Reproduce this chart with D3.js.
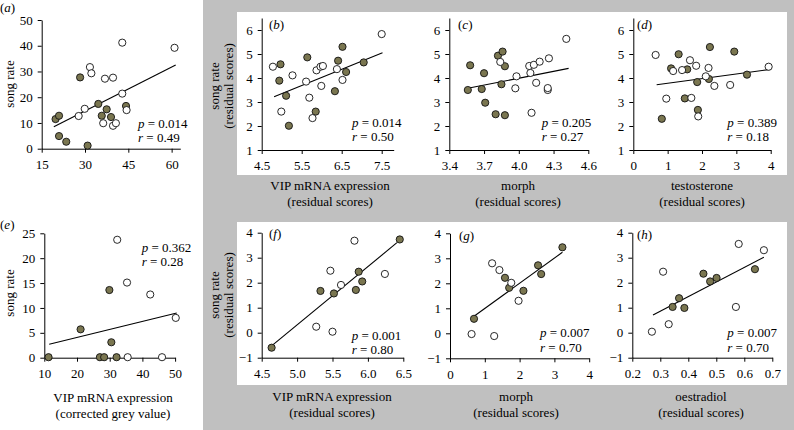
<!DOCTYPE html>
<html><head><meta charset="utf-8">
<script src="https://cdn.jsdelivr.net/npm/d3@7"></script>
<style>
body{margin:0;background:#fff}
text{font-family:"Liberation Serif","Times New Roman",serif;fill:#000}
</style>
</head><body><svg id="c" width="794" height="430"></svg>
<script>
// ---------- data ----------
const aFilled=[[19.8,11.5],[21.0,12.8],[21.0,4.9],[23.5,2.7],[28.3,27.7],[30.9,1.2],[34.6,17.4],[35.8,12.8],[37.5,15.3],[39.0,12.3],[44.2,16.6]];
const aOpen=[[27.8,12.7],[29.9,15.5],[31.7,31.7],[32.2,29.3],[36.3,9.9],[36.9,27.2],[39.7,27.6],[39.7,8.9],[40.7,9.9],[42.9,41.2],[42.9,21.4],[44.4,15.0],[61.0,39.2]];
const aFit=[[19.2,8.5],[61.4,32.5]];

const bFilled=[[4.97,4.57],[4.94,3.89],[5.11,3.26],[5.18,2.01],[5.64,4.86],[5.85,2.60],[6.33,3.45],[6.41,4.72],[6.52,5.30],[6.61,4.25],[7.05,4.65]];
const bOpen=[[4.78,4.47],[4.99,2.60],[5.27,4.11],[5.61,3.85],[5.69,3.18],[5.77,2.33],[5.87,4.32],[5.97,4.47],[6.03,4.50],[5.99,3.67],[6.38,4.37],[6.52,3.92],[7.50,5.83]];
const bFit=[[4.81,3.22],[7.52,5.05]];

const cFilled=[[3.56,3.50],[3.58,4.53],[3.68,3.54],[3.70,4.20],[3.71,2.97],[3.80,2.49],[3.82,4.93],[3.86,5.10],[3.85,3.74],[3.88,4.49],[3.88,2.45]];
const cOpen=[[3.84,4.67],[3.97,3.57],[3.98,4.07],[4.09,4.50],[4.13,4.55],[4.10,4.21],[4.11,2.55],[4.15,3.80],[4.18,4.68],[4.26,4.82],[4.25,3.50],[4.25,3.58],[4.41,5.63]];
const cFit=[[3.56,3.57],[4.43,4.40]];

const dFilled=[[0.83,2.30],[1.10,4.40],[1.32,4.99],[1.50,3.15],[1.57,4.36],[1.86,3.83],[1.88,2.67],[2.20,3.96],[2.23,5.29],[2.94,5.10],[3.31,4.14]];
const dOpen=[[0.65,4.96],[0.96,3.14],[1.16,4.29],[1.42,4.33],[1.65,4.74],[1.69,3.17],[1.83,4.51],[1.89,2.40],[2.11,4.07],[2.19,4.42],[2.36,3.67],[2.82,3.71],[3.94,4.47]];
const dFit=[[0.68,3.72],[4.0,4.36]];

const eFilled=[[11.3,0.1],[21.1,5.7],[27.0,0.1],[28.3,0.1],[29.9,13.6],[30.5,3.1],[32.1,0.1]];
const eOpen=[[32.3,23.7],[35.3,15.1],[35.5,0.1],[42.4,12.7],[46.0,0.1],[50.2,8.0]];
const eFit=[[11.5,2.7],[50.5,9.0]];

const fFilled=[[4.64,-0.60],[5.33,1.67],[5.52,1.57],[5.83,1.71],[5.87,2.44],[5.92,2.05],[6.45,3.73]];
const fOpen=[[5.27,0.24],[5.50,0.04],[5.47,2.48],[5.62,1.91],[5.81,3.68],[6.24,2.35]];
const fFit=[[4.64,-0.53],[6.41,3.60]];

const gFilled=[[0.69,0.58],[1.58,2.22],[1.70,1.82],[2.11,1.70],[2.53,2.72],[2.62,2.37],[3.23,3.44]];
const gOpen=[[0.62,-0.03],[1.21,2.80],[1.42,2.53],[1.27,-0.11],[1.76,2.02],[1.97,1.30]];
const gFit=[[0.67,0.66],[3.23,3.24]];

const hFilled=[[0.344,1.03],[0.367,1.38],[0.386,0.99],[0.454,2.36],[0.478,2.05],[0.501,2.19],[0.638,2.54]];
const hOpen=[[0.27,0.04],[0.31,2.44],[0.33,0.34],[0.58,3.55],[0.57,1.03],[0.67,3.30]];
const hFit=[[0.274,0.71],[0.67,3.02]];

const xTicksA=[15,30,45,60], yTicksA=[0,10,20,30,40,50];
const xTicksB=[4.5,5.5,6.5,7.5], xTicksC=[3.4,3.7,4.0,4.3,4.6], xTicksD=[0,1,2,3,4];
const yTicksTop=[1,2,3,4,5,6];
const xTicksE=[10,20,30,40,50], yTicksE=[0,5,10,15,20,25];
const xTicksF=[4.5,5.0,5.5,6.0,6.5], xTicksG=[0,1,2,3,4], xTicksH=[0.2,0.3,0.4,0.5,0.6,0.7];
const yTicksBot=[-1,0,1,2,3,4];

const pVals={a:"0.014",b:"0.014",c:"0.205",d:"0.389",e:"0.362",f:"0.001",g:"0.007",h:"0.007"};
const rVals={a:"0.49",b:"0.50",c:"0.27",d:"0.18",e:"0.28",f:"0.80",g:"0.70",h:"0.70"};

// ---------- drawing ----------
const svg=d3.select("#c");
const GRAY="#c0c0c0", OLIVE="#7a7650", FS=13;

svg.append("rect").attr("x",203).attr("y",0).attr("width",591).attr("height",430).attr("fill",GRAY);
svg.append("rect").attr("x",237).attr("y",12).attr("width",550).attr("height",163).attr("fill","#fff");
svg.append("rect").attr("x",237).attr("y",222).attr("width",550).attr("height",163).attr("fill","#fff");

function fmt1(d){return d3.format(".1f")(d).replace("-","\u2212");}
function fmt0(d){return d3.format("d")(d).replace("-","\u2212");}

function panel(o){
  const g=svg.append("g");
  const x=d3.scaleLinear().domain(o.xd).range(o.xr);
  const y=d3.scaleLinear().domain(o.yd).range(o.yr);
  const xa=g.append("g").attr("transform",`translate(0,${o.yr[0]})`)
    .call(d3.axisBottom(x).tickValues(o.xt).tickFormat(o.xf).tickSize(4).tickPadding(7).tickSizeOuter(0));
  const ya=g.append("g").attr("transform",`translate(${o.xr[0]},0)`)
    .call(d3.axisLeft(y).tickValues(o.yt).tickFormat(o.yf).tickSize(4).tickPadding(5).tickSizeOuter(0));
  [xa,ya].forEach(a=>{
    a.attr("font-family",'"Liberation Serif",serif').attr("font-size",FS);
    a.selectAll("text").style("font-family",'"Liberation Serif",serif').style("font-size",FS+"px").attr("fill","#000");
    a.selectAll("path,line").attr("stroke","#000").attr("stroke-width",1);
  });
  g.append("line").attr("x1",x(o.fit[0][0])).attr("y1",y(o.fit[0][1]))
   .attr("x2",x(o.fit[1][0])).attr("y2",y(o.fit[1][1])).attr("stroke","#000").attr("stroke-width",1.1);
  g.selectAll("c.f").data(o.filled).enter().append("circle")
   .attr("cx",d=>x(d[0])).attr("cy",d=>y(d[1])).attr("r",3.6)
   .attr("fill",OLIVE).attr("stroke","#111").attr("stroke-width",0.9);
  g.selectAll("c.o").data(o.open).enter().append("circle")
   .attr("cx",d=>x(d[0])).attr("cy",d=>y(d[1])).attr("r",3.6)
   .attr("fill","#fff").attr("stroke","#111").attr("stroke-width",0.9);
  const L=g.append("text").attr("x",o.lx).attr("y",o.ly).style("font-size",FS+"px");
  L.append("tspan").text("(");
  L.append("tspan").attr("font-style","italic").text(o.id);
  L.append("tspan").text(")");
  const P=g.append("text").attr("x",o.sx).attr("y",o.sy).style("font-size",FS+"px");
  P.append("tspan").attr("font-style","italic").text("p");
  P.append("tspan").text(" = "+pVals[o.id]);
  const R=g.append("text").attr("x",o.sx).attr("y",o.sy+14.5).style("font-size",FS+"px");
  R.append("tspan").attr("font-style","italic").text("r");
  R.append("tspan").text(" = "+rVals[o.id]);
  if(o.xl){
    o.xl.forEach((t,i)=>g.append("text").attr("x",o.xlx).attr("y",o.xly+i*16).attr("text-anchor","middle").style("font-size",FS+"px").text(t));
  }
  if(o.yl){
    o.yl.forEach((t,i)=>g.append("text").attr("transform",`translate(${o.ylx+i*14},${o.yly}) rotate(-90)`).attr("text-anchor","middle").style("font-size",FS+"px").text(t));
  }
}

panel({id:"a",xd:[15,63],xr:[41.7,180.3],yd:[0,50],yr:[148.7,20],xt:xTicksA,yt:yTicksA,xf:fmt0,yf:fmt0,
  filled:aFilled,open:aOpen,fit:aFit,lx:0,ly:12,sx:138,sy:127.5,yl:["song rate"],ylx:14,yly:84});
panel({id:"b",xd:[4.5,7.8],xr:[261.7,393.7],yd:[1,6.5],yr:[150,18],xt:xTicksB,yt:yTicksTop,xf:fmt1,yf:fmt0,
  filled:bFilled,open:bOpen,fit:bFit,lx:269,ly:29,sx:352,sy:126.5,
  xl:["VIP mRNA expression","(residual scores)"],xlx:330,xly:190,yl:["song rate","(residual scores)"],ylx:219,yly:86});
panel({id:"c",xd:[3.4,4.6],xr:[449.3,588.3],yd:[1,6.5],yr:[150,18],xt:xTicksC,yt:yTicksTop,xf:fmt1,yf:fmt0,
  filled:cFilled,open:cOpen,fit:cFit,lx:458,ly:29,sx:541.7,sy:126.5,
  xl:["morph","(residual scores)"],xlx:518,xly:190});
panel({id:"d",xd:[0,4],xr:[633.3,770.7],yd:[1,6.5],yr:[150,18],xt:xTicksD,yt:yTicksTop,xf:fmt0,yf:fmt0,
  filled:dFilled,open:dOpen,fit:dFit,lx:637,ly:29,sx:727.3,sy:126.5,
  xl:["testosterone","(residual scores)"],xlx:702,xly:190});
panel({id:"e",xd:[10,50],xr:[44.3,175.1],yd:[0,25],yr:[357.7,233.3],xt:xTicksE,yt:yTicksE,xf:fmt0,yf:fmt0,
  filled:eFilled,open:eOpen,fit:eFit,lx:0,ly:229,sx:141.7,sy:251.5,
  xl:["VIP mRNA expression","(corrected grey value)"],xlx:113,xly:402,yl:["song rate"],ylx:14,yly:293});
panel({id:"f",xd:[4.5,6.5],xr:[261.7,403.3],yd:[-1,4],yr:[357.7,232.7],xt:xTicksF,yt:yTicksBot,xf:fmt1,yf:fmt0,
  filled:fFilled,open:fOpen,fit:fFit,lx:269,ly:238,sx:351.7,sy:339.5,
  xl:["VIP mRNA expression","(residual scores)"],xlx:332,xly:401,yl:["song rate","(residual scores)"],ylx:219,yly:295});
panel({id:"g",xd:[0,4],xr:[450,589.2],yd:[-1,4],yr:[358.3,233.3],xt:xTicksG,yt:yTicksBot,xf:fmt0,yf:fmt0,
  filled:gFilled,open:gOpen,fit:gFit,lx:459,ly:240,sx:540,sy:337,
  xl:["morph","(residual scores)"],xlx:516,xly:401});
panel({id:"h",xd:[0.2,0.7],xr:[632.3,772.3],yd:[-1,4],yr:[357.7,232.7],xt:xTicksH,yt:yTicksBot,xf:fmt1,yf:fmt0,
  filled:hFilled,open:hOpen,fit:hFit,lx:637,ly:239,sx:727.3,sy:337,
  xl:["oestradiol","(residual scores)"],xlx:701,xly:401});
</script></body></html>
